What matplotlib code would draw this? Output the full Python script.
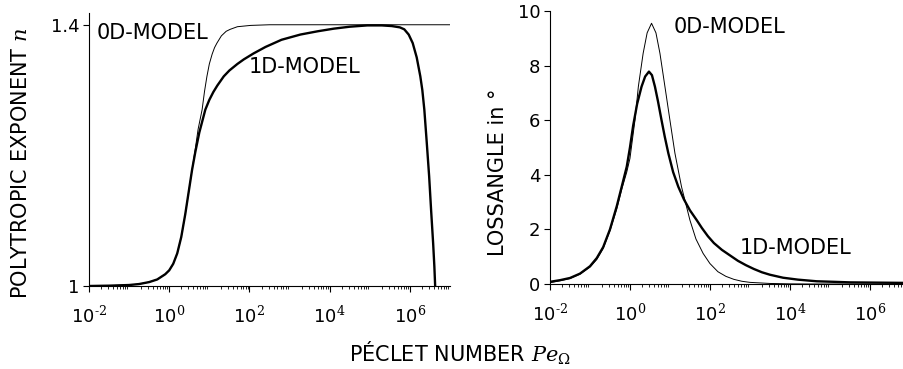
import numpy as np
import matplotlib
matplotlib.use("Agg")
import matplotlib.pyplot as plt
from matplotlib.ticker import LogLocator, FixedLocator, NullFormatter

plt.rcParams['font.family'] = ['DejaVu Sans']
plt.rcParams['mathtext.fontset'] = 'dejavuserif'

# log10 of Peclet number and values
n0_logpe = [-2.0, -1.5, -1.0, -0.75, -0.5, -0.3, -0.1, 0.0, 0.1, 0.2, 0.3, 0.4, 0.5, 0.57,
            0.65, 0.72, 0.82, 0.88, 0.94, 1.0, 1.07, 1.13, 1.19, 1.3, 1.42, 1.52, 1.7,
            2.03, 2.5, 7.0]
n0_val = [1.0, 1.0005, 1.0015, 1.003, 1.006, 1.010, 1.018, 1.024, 1.034, 1.05, 1.075, 1.11,
          1.15, 1.178, 1.21, 1.24, 1.27, 1.298, 1.321, 1.34, 1.355, 1.365, 1.372, 1.383,
          1.39, 1.393, 1.397, 1.399, 1.4, 1.4]

n1_logpe = [-2.0, -1.5, -1.0, -0.75, -0.5, -0.3, -0.1, 0.0, 0.1, 0.2, 0.3, 0.4, 0.5, 0.57,
            0.65, 0.75, 0.9, 1.0, 1.1, 1.2, 1.36, 1.5, 1.7, 1.86, 2.1, 2.4, 2.8, 3.27,
            3.7, 4.1, 4.5, 4.94, 5.3, 5.55, 5.75, 5.86, 5.97, 6.07, 6.17, 6.26, 6.31,
            6.36, 6.42, 6.48, 6.53, 6.58, 6.61, 6.63, 6.65]
n1_val = [1.0, 1.0005, 1.0015, 1.003, 1.006, 1.010, 1.018, 1.024, 1.034, 1.05, 1.075, 1.11,
          1.15, 1.178, 1.205, 1.235, 1.27, 1.285, 1.297, 1.307, 1.321, 1.33, 1.34, 1.347,
          1.356, 1.366, 1.377, 1.385, 1.39, 1.394, 1.397, 1.399, 1.399, 1.398, 1.396,
          1.393, 1.385, 1.372, 1.35, 1.321, 1.30, 1.27, 1.22, 1.168, 1.115, 1.065, 1.03,
          1.0, 0.98]

loss0_logpe = [-2.0, -1.75, -1.5, -1.25, -1.0, -0.83, -0.67, -0.5, -0.33, -0.2, -0.08,
               0.0, 0.125, 0.21, 0.33, 0.43, 0.54, 0.65, 0.75, 0.875, 1.0, 1.125, 1.29,
               1.5, 1.65, 1.83, 2.0, 2.2, 2.4, 2.6, 2.8, 3.0, 3.5, 4.0, 4.5, 6.9]
loss0_val = [0.05, 0.12, 0.2, 0.36, 0.62, 0.9, 1.3, 1.95, 2.75, 3.5, 4.1, 4.6, 6.0, 7.23,
             8.45, 9.2, 9.55, 9.2, 8.45, 7.23, 6.0, 4.79, 3.56, 2.34, 1.65, 1.12, 0.75,
             0.45, 0.28, 0.17, 0.1, 0.06, 0.02, 0.005, 0.0, 0.0]

loss1_logpe = [-2.0, -1.75, -1.5, -1.25, -1.0, -0.83, -0.67, -0.5, -0.33, -0.2, -0.08,
               0.0, 0.08, 0.18, 0.29, 0.38, 0.475, 0.55, 0.625, 0.7, 0.79, 0.87, 0.96,
               1.08, 1.21, 1.35, 1.5, 1.67, 1.8, 1.95, 2.1, 2.3, 2.5, 2.7, 2.9, 3.1,
               3.3, 3.5, 3.83, 4.2, 4.67, 5.1, 5.5, 6.2, 6.9]
loss1_val = [0.08, 0.14, 0.22, 0.38, 0.65, 0.95, 1.35, 2.0, 2.85, 3.6, 4.3, 5.0, 5.8, 6.6,
             7.23, 7.6, 7.78, 7.65, 7.23, 6.7, 6.0, 5.4, 4.79, 4.1, 3.56, 3.1, 2.7, 2.34,
             2.05, 1.75, 1.5, 1.25, 1.05, 0.85, 0.69, 0.55, 0.43, 0.34, 0.23, 0.16, 0.1,
             0.08, 0.06, 0.05, 0.04]

xtick_exp = [-2, 0, 2, 4, 6]
xtick_labels = [r'$\mathregular{10^{\text{%d}}}$' % e for e in xtick_exp]

fig = plt.figure(figsize=(9.04, 3.69), dpi=100)
ax1 = fig.add_axes([89 / 904, 83 / 369, 361 / 904, 273 / 369])
ax2 = fig.add_axes([550 / 904, 85 / 369, 353 / 904, 273 / 369])

thin = 0.7
thick = 1.7

ax1.plot(10 ** np.array(n0_logpe), n0_val, color='black', lw=thin)
ax1.plot(10 ** np.array(n1_logpe), n1_val, color='black', lw=thick)
ax1.set_ylim(1.0, 1.418)
ax1.set_yticks([1.0, 1.4])
ax1.set_yticklabels(['1', '1.4'])
ax1.set_xlim(1e-2, 1e7)

ax2.plot(10 ** np.array(loss0_logpe), loss0_val, color='black', lw=thin)
ax2.plot(10 ** np.array(loss1_logpe), loss1_val, color='black', lw=thick)
ax2.set_ylim(0, 10)
ax2.set_yticks([0, 2, 4, 6, 8, 10])
ax2.set_xlim(1e-2, 10 ** 6.83)

for ax in (ax1, ax2):
    ax.set_xscale('log')
    ax.xaxis.set_major_locator(FixedLocator([10.0 ** e for e in xtick_exp]))
    ax.set_xticklabels(xtick_labels)
    ax.xaxis.set_minor_locator(LogLocator(base=10, subs=np.arange(2, 10), numticks=50))
    ax.xaxis.set_minor_formatter(NullFormatter())
    ax.spines['top'].set_visible(False)
    ax.spines['right'].set_visible(False)
    ax.spines['left'].set_linewidth(0.8)
    ax.spines['bottom'].set_linewidth(0.8)
    ax.tick_params(axis='x', which='major', length=4, width=0.8, pad=10, labelsize=13)
    ax.tick_params(axis='x', which='minor', length=2, width=0.6)
    ax.tick_params(axis='y', which='major', length=4, width=0.8, pad=3, labelsize=13)
    ax.set_facecolor('none')

ann = 15
ax1.text(97 / 904, 1 - 33 / 369, '0D-MODEL', transform=fig.transFigure, fontsize=ann,
         ha='left', va='center')
ax1.text(305 / 904, 1 - 67 / 369, '1D-MODEL', transform=fig.transFigure, fontsize=ann,
         ha='center', va='center')
ax2.text(730 / 904, 1 - 27 / 369, '0D-MODEL', transform=fig.transFigure, fontsize=ann,
         ha='center', va='center')
ax2.text(796 / 904, 1 - 248 / 369, '1D-MODEL', transform=fig.transFigure, fontsize=ann,
         ha='center', va='center')

fig.text(21 / 904, 1 - 163 / 369, r'POLYTROPIC EXPONENT $\mathit{n}$', rotation=90,
         fontsize=ann, ha='center', va='center')
fig.text(498 / 904, 1 - 172 / 369, 'LOSSANGLE in °', rotation=90, fontsize=ann,
         ha='center', va='center')
fig.text(460 / 904, 1 - 353 / 369, r'PÉCLET NUMBER $\mathit{Pe}_{\Omega}$', fontsize=ann,
         ha='center', va='center')

fig.savefig('out.png', dpi=100)
